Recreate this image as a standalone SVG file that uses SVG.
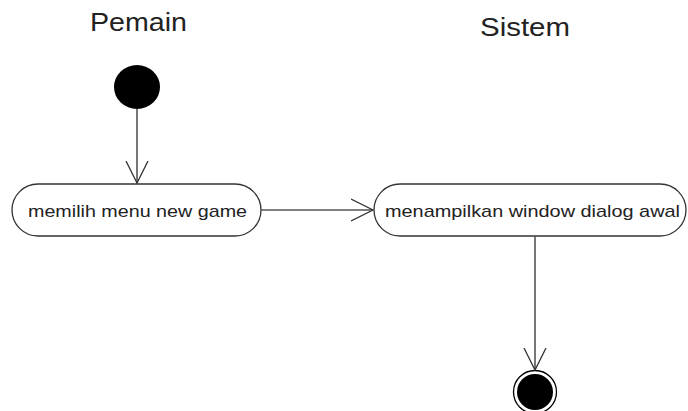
<svg xmlns="http://www.w3.org/2000/svg" width="688" height="411" viewBox="0 0 688 411">
<style>
.t{font-family:"Liberation Sans",Arial,sans-serif;fill:#222}
.lane{font-size:25px}
.lbl{font-size:17px}
.node{fill:#fff;stroke:#333;stroke-width:1.3}
.edge{stroke:#555;stroke-width:1.6;fill:none}
</style>
<defs>
<marker id="open" viewBox="0 0 24 24" refX="22" refY="12" markerWidth="24" markerHeight="24" markerUnits="userSpaceOnUse" orient="auto">
<path d="M0,1 L22,12 L0,23" fill="none" stroke="#333" stroke-width="1.3"/>
</marker>
</defs>
<text class="t lane" x="90" y="31" textLength="97" lengthAdjust="spacingAndGlyphs">Pemain</text>
<text class="t lane" x="480" y="36" textLength="90" lengthAdjust="spacingAndGlyphs">Sistem</text>
<g id="start"><ellipse cx="137" cy="87" rx="23" ry="22" fill="#000"/></g>
<g id="n1"><rect class="node" x="12" y="184" width="249" height="52" rx="26"/><text class="t lbl" x="28" y="217" textLength="219" lengthAdjust="spacingAndGlyphs">memilih menu new game</text></g>
<g id="n2"><rect class="node" x="374" y="184" width="312" height="52" rx="26"/><text class="t lbl" x="385" y="217" textLength="295" lengthAdjust="spacingAndGlyphs">menampilkan window dialog awal</text></g>
<g id="end"><circle cx="535" cy="392" r="21.5" fill="#fff" stroke="#000" stroke-width="1.3"/><circle cx="535" cy="392" r="18" fill="#000"/></g>
<g id="edges">
<line class="edge" x1="137" y1="109" x2="137" y2="183" marker-end="url(#open)"/>
<line class="edge" x1="261" y1="210" x2="373" y2="210" marker-end="url(#open)"/>
<line class="edge" x1="535" y1="236" x2="535" y2="370" marker-end="url(#open)"/>
</g>
</svg>
